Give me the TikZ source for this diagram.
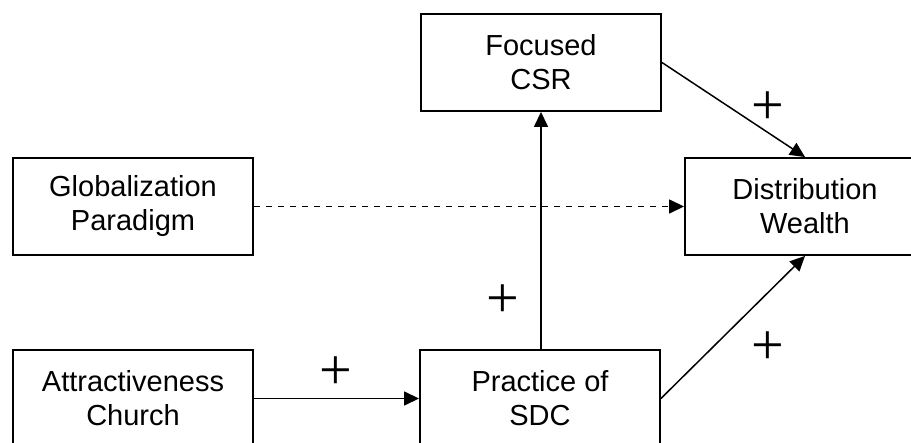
\documentclass[tikz,border=0pt]{standalone}
\usepackage{fontspec}
\setmainfont{Liberation Sans}
\newfontfamily\plusfont{Liberation Serif}
\usetikzlibrary{arrows.meta}
\tikzset{
  box/.style={draw, line width=1.9pt, minimum width=240pt, minimum height=97pt,
    inner sep=0pt, align=center, font=\fontsize{29}{34}\selectfont},
  conn/.style={line width=1.5pt, -{Triangle[length=15pt,width=14pt]}},
  plus/.style={inner sep=0pt, font=\plusfont\fontsize{58}{60}\selectfont}
}
\begin{document}
\begin{tikzpicture}[x=1pt, y=-1pt]
\useasboundingbox (0,0) rectangle (911,443);
\node[box] (csr)  at (541,62.5)  {Focused\\CSR};
\node[box] (glob) at (133,206.5) {Globalization\\Paradigm};
\node[box] (dist) at (805,206.5) {Distribution\\Wealth};
\node[box] (attr) at (133,398.5) {Attractiveness\\Church};
\node[box] (sdc)  at (540,398.5) {Practice of\\SDC};
\draw[conn] (csr.east) -- (dist.north);
\draw[conn, dash pattern=on 6.5pt off 5.5pt] (glob.east) -- (dist.west);
\draw[conn] (sdc.north -| csr.south) -- (csr.south);
\draw[conn] (attr.east) -- (sdc.west);
\draw[conn] (sdc.east) -- (dist.south);
\node[plus] (p1) at (768,108) {+};
\node[plus] (p2) at (503,301) {+};
\node[plus] (p3) at (336,373) {+};
\node[plus] (p4) at (768,348) {+};
\end{tikzpicture}
\end{document}
